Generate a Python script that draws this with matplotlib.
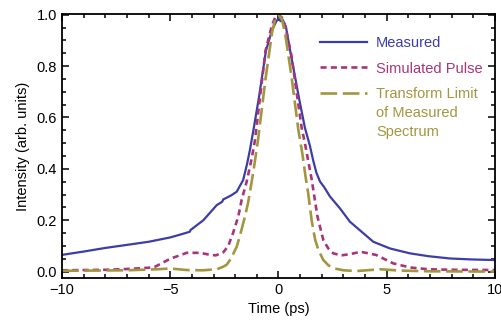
import matplotlib
matplotlib.use("Agg")
import matplotlib.pyplot as plt
from matplotlib.ticker import MultipleLocator

plt.rcParams['font.family'] = ['Liberation Sans', 'DejaVu Sans']
plt.rcParams['lines.scale_dashes'] = False

# Measured trace
t_meas = [-10, -9, -8, -7, -6, -5, -4.5, -4.1, -4.06, -3.47, -2.85, -2.6, -2.55, -2.2, -1.93,
          -1.63, -1.45, -1.32, -1.16, -0.9, -0.58, -0.3, -0.1, 0.0, 0.1, 0.2, 0.35, 0.53,
          0.96, 1.22, 1.45, 1.61, 1.75, 1.92, 2.1, 2.38, 2.84, 3.3, 3.84, 4.38, 5.15, 6.07,
          6.92, 7.92, 9.0, 10.0]
i_meas = [0.065, 0.078, 0.092, 0.104, 0.116, 0.133, 0.145, 0.155, 0.162, 0.2, 0.259, 0.272,
          0.281, 0.296, 0.311, 0.357, 0.42, 0.474, 0.55, 0.68, 0.86, 0.94, 0.975, 0.985,
          0.975, 0.98, 0.95, 0.864, 0.67, 0.56, 0.49, 0.43, 0.385, 0.35, 0.33, 0.292, 0.246,
          0.194, 0.155, 0.116, 0.09, 0.071, 0.06, 0.051, 0.047, 0.045]

# Simulated pulse
t_sim = [-10, -8, -7, -6, -5.7, -5, -4.24, -3.63, -3.2, -2.9, -2.55, -2.32, -2.1, -1.86,
         -1.7, -1.47, -1.24, -1.09, -0.6, -0.3, -0.15, 0, 0.15, 0.3, 0.6, 0.85, 1.07, 1.22,
         1.53, 1.8, 2.07, 2.3, 2.53, 2.9, 3.3, 3.8, 4.5, 5.3, 6.07, 6.92, 8.0, 10.0]
i_sim = [0.005, 0.007, 0.01, 0.015, 0.019, 0.05, 0.073, 0.073, 0.066, 0.063, 0.075, 0.1, 0.15,
         0.214, 0.28, 0.35, 0.44, 0.51, 0.86, 0.96, 0.99, 1.0, 0.99, 0.96, 0.84, 0.69, 0.56,
         0.5, 0.36, 0.214, 0.123, 0.09, 0.071, 0.063, 0.068, 0.077, 0.065, 0.032, 0.016,
         0.009, 0.007, 0.006]

# Transform limit of measured spectrum
t_tl = [-10, -7, -5.63, -5, -4.24, -3.5, -2.85, -2.55, -2.39, -2.2, -1.93, -1.78, -1.55,
        -1.4, -1.16, -0.95, -0.6, -0.3, -0.15, 0, 0.15, 0.3, 0.6, 0.92, 1.1, 1.25, 1.38,
        1.53, 1.69, 1.84, 2.07, 2.3, 2.53, 3.0, 3.6, 4.69, 5.6, 7.0, 10.0]
i_tl = [0.003, 0.005, 0.009, 0.012, 0.006, 0.005, 0.009, 0.019, 0.027, 0.05, 0.097, 0.14,
        0.214, 0.27, 0.39, 0.51, 0.75, 0.93, 0.985, 1.0, 0.985, 0.93, 0.76, 0.55, 0.46,
        0.37, 0.3, 0.2, 0.125, 0.085, 0.045, 0.025, 0.013, 0.005, 0.002, 0.009, 0.004,
        0.001, 0.0]

labels = ["Measured", "Simulated Pulse", "Transform Limit"]
extra_label = "of Measured\nSpectrum"

c_blue = "#3d3da6"
c_mag = "#a8357a"
c_olive = "#a39640"

fig = plt.figure(figsize=(5.02, 3.25), dpi=100)
ax = fig.add_axes([62/502, 1 - 278/325, (495-62)/502, (278-14)/325])

ax.plot(t_meas, i_meas, color=c_blue, lw=1.6, label=labels[0], solid_joinstyle='round')
ax.plot(t_sim, i_sim, color=c_mag, lw=1.9, dashes=(4.4, 3.0), label=labels[1])
ax.plot(t_tl, i_tl, color=c_olive, lw=1.9, dashes=(12, 4), label=labels[2])

ax.set_xlim(-10, 10)
ax.set_ylim(-0.025, 1.003)
ax.xaxis.set_major_locator(MultipleLocator(5))
ax.xaxis.set_minor_locator(MultipleLocator(1))
ax.yaxis.set_major_locator(MultipleLocator(0.2))
ax.yaxis.set_minor_locator(MultipleLocator(0.05))
ax.yaxis.set_major_formatter(plt.FuncFormatter(lambda v, p: f"{v:.1f}"))
ax.xaxis.set_major_formatter(plt.FuncFormatter(lambda v, p: f"{int(v)}".replace("-", "\u2212")))
ax.tick_params(which='both', direction='in', top=True, right=True, labelsize=10.5, width=1.1)
ax.tick_params(which='major', length=5)
ax.tick_params(which='minor', length=3)
for s in ax.spines.values():
    s.set_linewidth(1.3)

ax.set_xlabel("Time (ps)", fontsize=10.5, labelpad=4)
ax.set_ylabel("Intensity (arb. units)", fontsize=10.5, labelpad=5)

leg = ax.legend(loc='upper left', bbox_to_anchor=(0.596, 0.917), frameon=False,
                fontsize=10.5, handlelength=3.2, handletextpad=0.65, borderpad=0,
                borderaxespad=0, labelspacing=0.8, labelcolor='linecolor')

fig.canvas.draw()
# continuation lines of the third legend label
txt = leg.get_texts()[2]
bb = txt.get_window_extent().transformed(ax.transAxes.inverted())
ax.text(bb.x0, bb.y0 - 0.019, extra_label, transform=ax.transAxes, color=c_olive,
        fontsize=10.5, va='top', ha='left', linespacing=1.45)

fig.savefig("out.png", dpi=100)
